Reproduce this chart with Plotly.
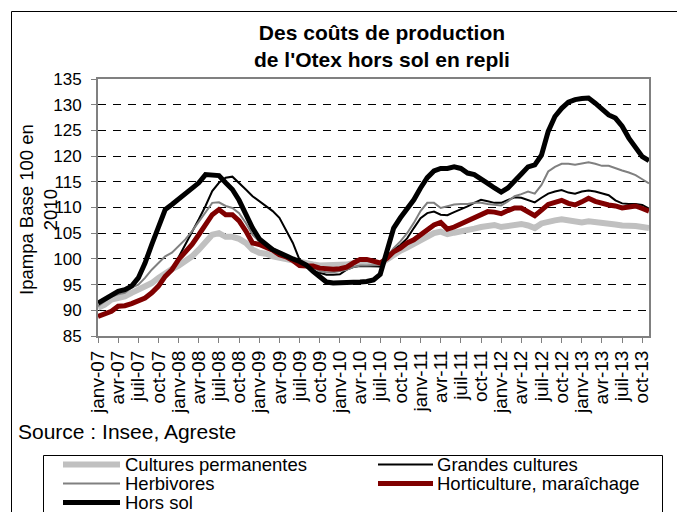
import plotly.graph_objects as go

# ---------------- data ----------------
month_abbr = ["janv", "févr", "mars", "avr", "mai", "juin",
              "juil", "août", "sept", "oct", "nov", "déc"]
years = ["07", "08", "09", "10", "11", "12", "13"]
months = [f"{m}-{y}" for y in years for m in month_abbr][:83]  # janv-07 .. nov-13
tick_labels = months[::3]

cultures_permanentes = [
    90.5, 91.1, 92.1, 92.4, 92.7, 93.4, 94.0, 94.5, 95.3, 96.3, 97.3, 98.0,
    98.7, 99.5, 100.5, 101.8, 103.1, 104.7, 105.0, 104.3, 104.3, 103.9, 103.1, 101.8,
    101.2, 101.0, 100.5, 100.2, 99.9, 99.7, 99.2, 99.0, 98.9, 98.7, 98.7, 98.7,
    98.8, 98.9, 99.2, 99.4, 99.5, 99.2, 98.9, 99.9, 100.9, 101.6, 102.2, 102.9,
    103.5, 104.4, 105.0, 105.3, 104.8, 105.1, 105.3, 105.5, 105.9, 106.2, 106.4, 106.6,
    106.2, 106.4, 106.7, 106.8, 106.5, 106.0, 106.9, 107.3, 107.5, 107.7, 107.4, 107.2,
    107.1, 107.3, 107.2, 107.0, 106.9, 106.7, 106.5, 106.5, 106.4, 106.2, 106.0]

grandes_cultures = [
    89.0, 89.4, 90.0, 90.9, 91.0, 91.4, 91.9, 92.5, 93.5, 94.8, 96.5, 97.9,
    100.3, 102.8, 105.0, 107.7, 110.3, 113.2, 114.8, 115.8, 116.0, 114.8, 113.5, 112.2,
    111.2, 110.3, 109.3, 108.0, 105.6, 103.1, 99.8, 98.6, 97.5, 97.3, 96.9, 96.9,
    97.0, 97.9, 98.4, 98.6, 98.6, 98.6, 98.5, 100.6, 101.8, 102.7, 104.0, 106.0,
    107.9, 108.9, 109.2, 108.6, 108.5, 109.1, 109.6, 110.2, 110.9, 111.5, 111.2, 110.9,
    110.9, 111.5, 112.0, 111.9, 111.4, 111.0, 111.9, 112.7, 113.1, 113.4, 112.9, 112.7,
    113.1, 113.3, 113.1, 112.7, 112.4, 111.4, 110.8, 110.7, 110.7, 110.5, 109.8]

herbivores = [
    90.8, 91.8, 92.7, 93.1, 93.4, 94.4, 95.0, 96.3, 97.9, 99.2, 100.5, 101.2,
    102.5, 103.8, 105.4, 107.3, 109.0, 110.9, 111.0, 110.3, 109.9, 108.9, 107.0, 104.7,
    103.4, 102.8, 102.1, 101.3, 100.5, 100.0, 99.5, 98.9, 98.4, 97.6, 97.4, 97.4,
    97.6, 97.9, 98.4, 98.7, 98.7, 98.7, 98.8, 100.3, 102.1, 103.4, 105.0, 107.0,
    109.3, 110.9, 110.9, 109.9, 110.2, 110.6, 110.7, 110.7, 110.9, 110.9, 110.7, 110.6,
    110.4, 111.2, 112.2, 112.6, 113.1, 112.7, 114.4, 117.0, 117.9, 118.5, 118.5, 118.3,
    118.5, 118.8, 118.5, 118.1, 118.1, 117.6, 117.2, 116.8, 116.3, 115.5, 114.7]

horticulture = [
    88.8, 89.2, 89.8, 90.8, 90.9, 91.3, 91.8, 92.4, 93.4, 94.7, 96.6, 97.9,
    99.9, 101.2, 102.8, 104.7, 106.7, 108.6, 109.6, 108.6, 108.6, 107.4, 105.4, 103.1,
    102.8, 102.3, 101.7, 100.8, 100.4, 99.7, 98.7, 98.6, 98.6, 98.2, 98.0, 98.0,
    98.1, 98.4, 99.2, 99.9, 99.9, 99.6, 99.2, 100.1, 101.4, 102.1, 103.1, 103.7,
    104.7, 105.7, 106.6, 107.1, 105.8, 106.2, 106.8, 107.3, 107.9, 108.6, 109.2, 109.1,
    108.8, 109.4, 109.9, 109.9, 109.2, 108.4, 109.5, 110.6, 111.0, 111.4, 110.8, 110.5,
    111.1, 111.8, 111.2, 110.8, 110.5, 110.3, 109.9, 110.1, 110.3, 109.8, 109.3]

hors_sol = [
    91.4, 92.2, 93.0, 93.7, 94.0, 94.7, 96.3, 99.2, 102.8, 106.4, 109.6, 110.6,
    111.6, 112.9, 113.6, 114.8, 116.4, 116.4, 116.2, 114.8, 113.5, 111.4, 108.4, 106.0,
    103.9, 102.8, 101.8, 101.2, 100.5, 100.0, 99.5, 98.8, 97.6, 96.4, 95.5, 95.3,
    95.3, 95.4, 95.5, 95.5, 95.6, 95.9, 97.0, 101.8, 106.0, 108.0, 109.6, 111.5,
    113.8, 115.8, 117.1, 117.6, 117.6, 117.9, 117.6, 116.7, 116.4, 115.4, 114.7, 113.8,
    113.0, 113.8, 115.0, 116.5, 117.9, 118.3, 120.2, 124.8, 127.7, 129.3, 130.5, 131.0,
    131.2, 131.3, 130.3, 129.0, 128.0, 127.4, 125.8, 123.5, 121.5, 119.9, 119.1]

y_ticks = [85, 90, 95, 100, 105, 110, 115, 120, 125, 130, 135]

series_names = ["Cultures permanentes", "Grandes cultures", "Herbivores",
                "Horticulture, maraîchage", "Hors sol"]
series_values = [cultures_permanentes, grandes_cultures, herbivores,
                 horticulture, hors_sol]
series_colors = ["#c0c0c0", "#000000", "#808080", "#800000", "#000000"]
series_widths = [6, 2, 2, 5, 5]

# ---------------- layout geometry ----------------
W, H = 677, 512
L, R, T, B = 98, 649, 79, 336
FONT = "Liberation Sans, Arial, sans-serif"


def px(x):
    return (x - L) / (R - L)


def py(y):
    return (B - y) / (B - T)


fig = go.Figure()
for name, vals, col, w in zip(series_names, series_values, series_colors, series_widths):
    fig.add_trace(go.Scatter(x=months, y=vals, mode="lines", name=name,
                             line=dict(color=col, width=w, shape="linear"),
                             showlegend=False, hoverinfo="skip"))

shapes = []
annotations = []

# outer chart border (extends beyond the visible area on right / bottom)
shapes.append(dict(type="rect", xref="paper", yref="paper",
                   x0=px(11.5), x1=px(W + 20), y0=py(H + 20), y1=py(11.5),
                   line=dict(color="black", width=1), fillcolor="rgba(0,0,0,0)",
                   layer="below"))

# legend box
shapes.append(dict(type="rect", xref="paper", yref="paper",
                   x0=px(43.5), x1=px(662.5), y0=py(H + 20), y1=py(455.5),
                   line=dict(color="black", width=1), fillcolor="white",
                   layer="above"))

legend_pos = [(0, 0), (1, 0), (0, 1), (1, 1), (0, 2)]
col_line = [(63, 120, 123), (378, 433, 435)]
row_y = [464.5, 483.5, 502.5]
for (c, r), name, colr, w in zip(legend_pos, series_names, series_colors, series_widths):
    x0, x1, xt = col_line[c]
    yy = row_y[r]
    shapes.append(dict(type="line", xref="paper", yref="paper",
                       x0=px(x0), x1=px(x1), y0=py(yy), y1=py(yy),
                       line=dict(color=colr, width=w), layer="above"))
    annotations.append(dict(text=name, xref="paper", yref="paper",
                            x=px(xt), y=py(yy), xanchor="left", yanchor="middle",
                            showarrow=False, font=dict(family=FONT, size=18.5, color="black")))

# title
annotations.append(dict(text="<b>Des coûts de production<br>de l'Otex hors sol en repli</b>",
                        xref="paper", yref="paper", x=px(382), y=py(46),
                        xanchor="center", yanchor="middle", showarrow=False,
                        font=dict(family=FONT, size=21, color="black")))

# y-axis title
annotations.append(dict(text="Ipampa Base 100 en<br>2010", xref="paper", yref="paper",
                        x=px(38), y=py(210), xanchor="center", yanchor="middle",
                        textangle=-90, showarrow=False, align="center",
                        font=dict(family=FONT, size=18.5, color="black")))

# source
annotations.append(dict(text="Source : Insee, Agreste", xref="paper", yref="paper",
                        x=px(16), y=py(431), xanchor="left", yanchor="middle",
                        showarrow=False, font=dict(family=FONT, size=21, color="black")))

fig.update_layout(
    width=W, height=H,
    margin=dict(l=L, r=W - R, t=T, b=H - B, pad=0),
    paper_bgcolor="white", plot_bgcolor="white",
    showlegend=False,
    shapes=shapes, annotations=annotations,
    font=dict(family=FONT, color="black"),
)

fig.update_xaxes(
    type="category", range=[0, len(months) - 1],
    tickmode="array", tickvals=tick_labels, ticktext=tick_labels,
    tickangle=-90, tickfont=dict(family=FONT, size=19, color="black"),
    ticks="outside", ticklen=5, tickcolor="#808080", tickwidth=1,
    showline=True, linecolor="#808080", linewidth=2, mirror=True,
    showgrid=False, zeroline=False,
)
fig.update_yaxes(
    range=[85, 135], tickmode="array", tickvals=y_ticks,
    tickfont=dict(family=FONT, size=17, color="black"),
    ticks="outside", ticklen=5, tickcolor="#808080", tickwidth=1,
    ticklabelstandoff=6,
    showline=True, linecolor="#808080", linewidth=2, mirror=True,
    showgrid=True, gridcolor="black", gridwidth=1, griddash="8px,7px",
    zeroline=False,
)

fig.write_html("out.html", config={"displayModeBar": False},
               post_script="document.body.style.margin='0';")
